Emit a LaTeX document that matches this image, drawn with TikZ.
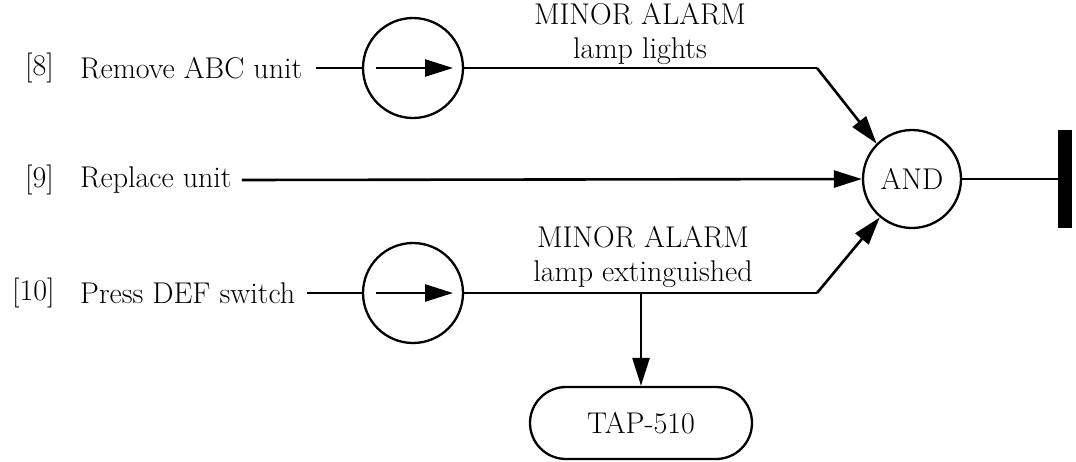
\documentclass[tikz,border=0pt]{standalone}
\usetikzlibrary{arrows.meta}
\begin{document}
\begin{tikzpicture}[x=1pt,y=-1pt,
  every node/.style={font=\fontsize{30}{34}\selectfont},
  ln/.style={line width=2.6pt},
  arr/.style={ln,-{Triangle[length=28pt,width=17pt]}},
  circ/.style={circle,draw,line width=2.3pt,minimum size=100pt,inner sep=0pt},
  lbl/.style={anchor=west,inner sep=0pt},
  term/.style={rounded corners=36pt,draw,line width=2.3pt,minimum width=222pt,minimum height=72pt}]
\useasboundingbox (0,0) rectangle (1076,461);
% left labels
\node[lbl] (n8) at (25,68) {[8]};
\node[lbl] (t8) at (80,68) {Remove ABC unit};
\node[lbl] (n9) at (25,180) {[9]};
\node[lbl] (t9) at (80,180) {Replace unit};
\node[lbl] (n10) at (12,293) {[10]};
\node[lbl] (t10) at (80,293) {Press DEF switch};
% circles
\node[circ] (c1) at (413,68) {};
\node[circ] (c2) at (413,293) {};
\node[circ,minimum size=98pt] (and) at (912,179) {AND};
\node[term] (tap) at (641,423) {TAP-510};
% labels
\node[align=center,inner sep=0pt] (l1) at (640,34) {MINOR ALARM\\lamp lights};
\node[align=center,inner sep=0pt] (l2) at (643,257) {MINOR ALARM\\lamp extinguished};
% bends
\coordinate (b1) at (817,68);
\coordinate (b2) at (817,293);
\coordinate (d2) at (641,293);
\coordinate (i1a) at (376,68);
\coordinate (i1b) at (453,68);
\coordinate (i2a) at (376,293);
\coordinate (i2b) at (453,293);
\coordinate (bar) at (1065,179);
% connectors
\draw[ln] ([xshift=14pt]t8.east) -- (c1.west);
\draw[ln] ([xshift=12pt]t10.east) -- (c2.west);
\draw[arr] (i1a) -- (i1b);
\draw[arr] (i2a) -- (i2b);
\draw[ln] (c1.east) -- (b1);
\draw[arr] (b1) -- (and.135);
\draw[arr] ([xshift=10pt]t9.east) -- (and.west);
\draw[ln] (c2.east) -- (b2);
\draw[arr] (b2) -- (and.230);
\draw[arr] (d2) -- (tap.north);
\draw[ln] (and.east) -- (bar);
\fill ([xshift=-7pt,yshift=-49pt]bar) rectangle ([xshift=7pt,yshift=49pt]bar);
\end{tikzpicture}
\end{document}
